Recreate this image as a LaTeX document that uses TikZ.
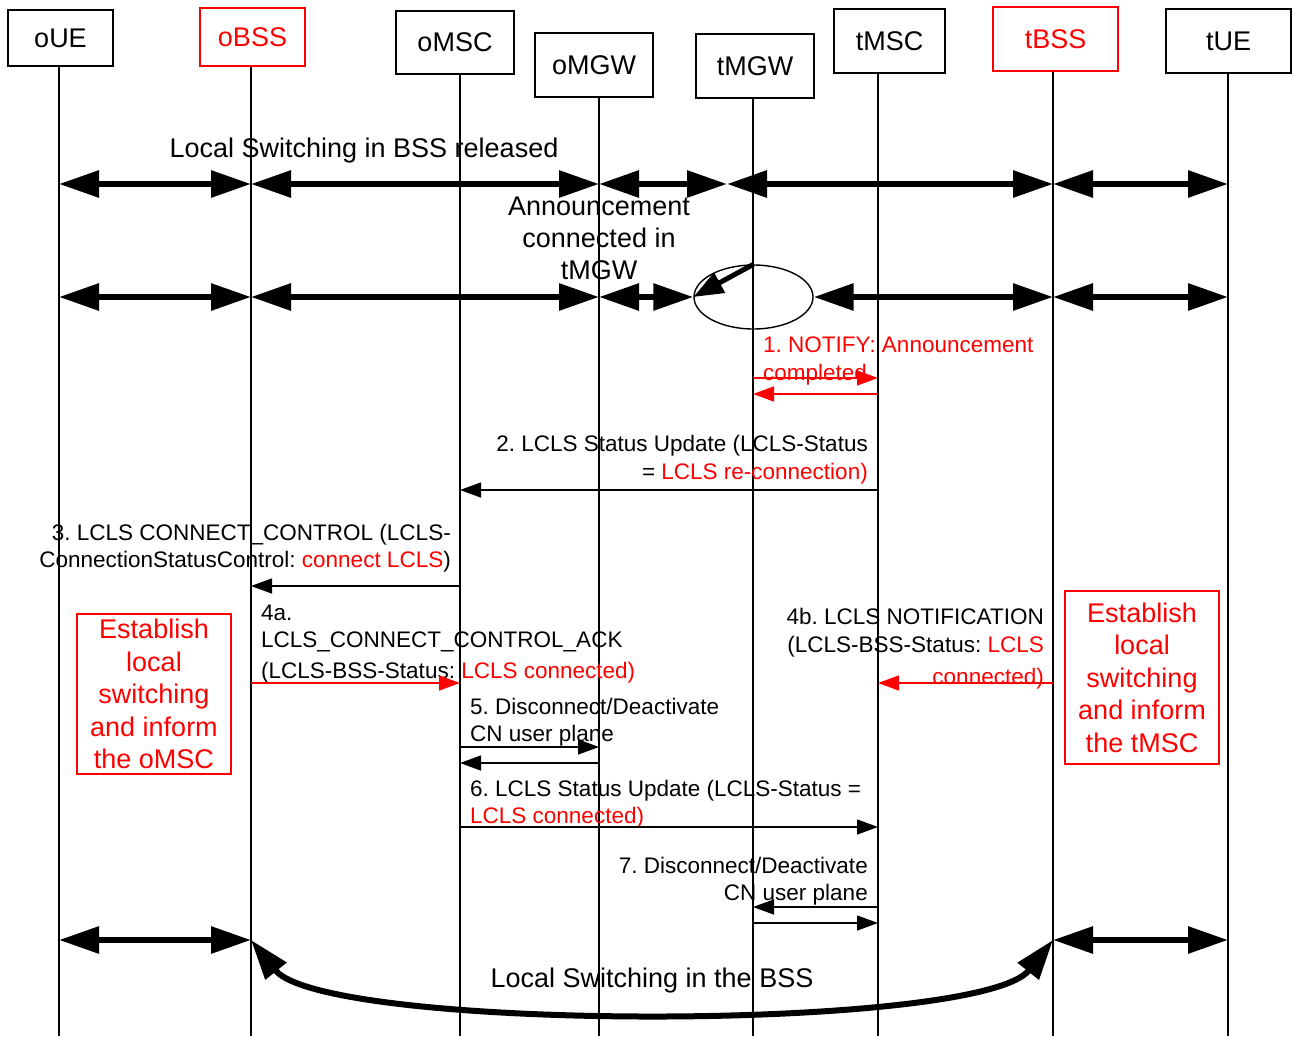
\documentclass[tikz,border=0pt]{standalone}
\usepackage{fontspec}
\setmainfont{Liberation Sans}
\usetikzlibrary{arrows.meta,shapes.geometric}
\definecolor{lred}{RGB}{255,0,0}

\newcommand\hdrfont{\fontsize{27}{32.5}\selectfont}
\newcommand\msgfont{\fontsize{22.5}{28}\selectfont}

\begin{document}
\frenchspacing
\begin{tikzpicture}[x=1pt,y=-1pt,
  ent/.style={draw, line width=1.4pt, inner sep=0pt, font=\hdrfont},
  redent/.style={ent, draw=lred, text=lred},
  life/.style={line width=1.3pt},
  msg/.style={line width=1.4pt, -{Triangle[length=21pt,width=15pt]}},
  redmsg/.style={msg, color=lred},
  flow/.style={line width=6pt, {Triangle[length=40pt,width=26pt]}-{Triangle[length=40pt,width=26pt]}},
  ml/.style={font=\msgfont, inner sep=0pt, anchor=base west},
  mr/.style={font=\msgfont, inner sep=0pt, anchor=base east},
  big/.style={font=\hdrfont, inner sep=0pt, anchor=base},
  note/.style={draw=lred, text=lred, line width=1.4pt, font=\hdrfont, align=center, inner sep=0pt},
]
\useasboundingbox (0,0) rectangle (1295,1036);

% entity boxes
\node[ent, minimum width=105pt, minimum height=56pt] (oUE) at (60.5,38) {oUE};
\node[redent, minimum width=105pt, minimum height=58pt] (oBSS) at (252.5,37) {oBSS};
\node[ent, minimum width=118pt, minimum height=63pt] (oMSC) at (455,42.5) {oMSC};
\node[ent, minimum width=118pt, minimum height=64pt] (oMGW) at (594,65) {oMGW};
\node[ent, minimum width=118pt, minimum height=64pt] (tMGW) at (755,66) {tMGW};
\node[ent, minimum width=111pt, minimum height=64pt] (tMSC) at (889.5,41) {tMSC};
\node[redent, minimum width=125pt, minimum height=64pt] (tBSS) at (1055.5,39) {tBSS};
\node[ent, minimum width=125pt, minimum height=64pt] (tUE) at (1228.5,41) {tUE};

% lifeline bottoms
\coordinate (boUE) at (59,1036);
\coordinate (boBSS) at (251,1036);
\coordinate (boMSC) at (460,1036);
\coordinate (boMGW) at (599,1036);
\coordinate (btMGW) at (753,1036);
\coordinate (btMSC) at (878,1036);
\coordinate (btBSS) at (1053,1036);
\coordinate (btUE) at (1228,1036);

\foreach \e in {oUE,oBSS,oMSC,oMGW,tMGW,tMSC,tBSS,tUE}
  \draw[life] (b\e |- \e.south) -- (b\e);

% speech path before the announcement
\node[big] (rel) at (364,157) {Local Switching in BSS released};
\coordinate (j1) at (727,184);
\draw[flow] (boUE |- 0,184) -- (boBSS |- 0,184);
\draw[flow] (boBSS |- 0,184) -- (boMGW |- 0,184);
\draw[flow] (boMGW |- 0,184) -- (j1);
\draw[flow] (j1) -- (btBSS |- 0,184);
\draw[flow] (btBSS |- 0,184) -- (btUE |- 0,184);

% announcement in tMGW
\node[big] (an1) at (599,215) {Announcement};
\node[big] (an2) at (599,247) {connected in};
\node[big] (an3) at (599,279) {tMGW};
\node[draw, ellipse, line width=1.4pt, minimum width=119pt, minimum height=64pt, inner sep=0pt] (ann) at (753.5,297) {};
\draw[line width=5pt, -{Triangle[length=30pt,width=22pt]}] (ann.north) -- (ann.west);
\draw[flow] (boUE |- 0,297) -- (boBSS |- 0,297);
\draw[flow] (boBSS |- 0,297) -- (boMGW |- 0,297);
\draw[flow] (boMGW |- 0,297) -- (ann.west);
\draw[flow] (ann.east) -- (btBSS |- 0,297);
\draw[flow] (btBSS |- 0,297) -- (btUE |- 0,297);

% 1
\node[ml, text=lred] (m1a) at (763,352) {1. NOTIFY: Announcement};
\node[ml, text=lred] (m1b) at (763,380) {completed};
\draw[redmsg] (btMGW |- 0,378) -- (btMSC |- 0,378);
\draw[redmsg] (btMSC |- 0,394) -- (btMGW |- 0,394);

% 2
\node[mr] (m2a) at (868,451) {2. LCLS Status Update (LCLS-Status};
\node[mr] (m2b) at (868,479) {= \textcolor{lred}{LCLS re-connection)}};
\draw[msg] (btMSC |- 0,490) -- (boMSC |- 0,490);

% 3
\node[mr] (m3a) at (451,540) {3. LCLS CONNECT\_CONTROL (LCLS-};
\node[mr] (m3b) at (451,567) {ConnectionStatusControl: \textcolor{lred}{connect LCLS})};
\draw[msg] (boMSC |- 0,586) -- (boBSS |- 0,586);

% 4a
\node[ml] (m4a) at (261,620) {4a.};
\node[ml] (m4b) at (261,647) {LCLS\_CONNECT\_CONTROL\_ACK};
\node[ml] (m4c) at (261,678) {(LCLS-BSS-Status: \textcolor{lred}{LCLS connected)}};
\draw[redmsg] (boBSS |- 0,683) -- (boMSC |- 0,683);

% 4b
\node[mr] (n4a) at (1044,624) {4b. LCLS NOTIFICATION};
\node[mr] (n4b) at (1044,652) {(LCLS-BSS-Status: \textcolor{lred}{LCLS}};
\node[mr, text=lred] (n4c) at (1044,684) {connected)};
\draw[redmsg] (btBSS |- 0,683) -- (btMSC |- 0,683);

% local switching notes
\node[note, minimum width=154pt, minimum height=160pt] (estO) at (154,694) {Establish\\local\\switching\\and inform\\the oMSC};
\node[note, minimum width=154pt, minimum height=173pt] (estT) at (1142,677.5) {Establish\\local\\switching\\and inform\\the tMSC};

% 5
\node[ml] (m5a) at (470,714) {5. Disconnect/Deactivate};
\node[ml] (m5b) at (470,741) {CN user plane};
\draw[msg] (boMSC |- 0,747) -- (boMGW |- 0,747);
\draw[msg] (boMGW |- 0,763) -- (boMSC |- 0,763);

% 6
\node[ml] (m6a) at (470,796) {6. LCLS Status Update (LCLS-Status =};
\node[ml, text=lred] (m6b) at (470,823) {LCLS connected)};
\draw[msg] (boMSC |- 0,827) -- (btMSC |- 0,827);

% 7
\node[mr] (m7a) at (868,873) {7. Disconnect/Deactivate};
\node[mr] (m7b) at (868,900) {CN user plane};
\draw[msg] (btMSC |- 0,907) -- (btMGW |- 0,907);
\draw[msg] (btMGW |- 0,923) -- (btMSC |- 0,923);

% local switching in the BSS
\draw[flow] (boUE |- 0,940) -- (boBSS |- 0,940);
\draw[flow] (btBSS |- 0,940) -- (btUE |- 0,940);
\draw[flow] (boBSS |- 0,940) .. controls (325,1032) and (980,1032) .. (btBSS |- 0,940);
\node[big] (loc) at (652,987) {Local Switching in the BSS};

\end{tikzpicture}
\end{document}
